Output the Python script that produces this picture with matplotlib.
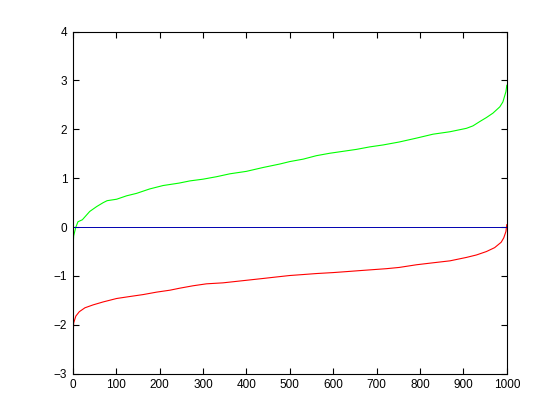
import matplotlib
matplotlib.use("Agg")
import matplotlib.pyplot as plt

# values (sorted curves, index vs value)
green_idx = [1, 2, 7, 12, 22, 39, 55, 70, 79, 101, 124, 147, 177, 208, 245,
             270, 300, 331, 362, 400, 439, 477, 500, 531, 561, 592, 623, 654,
             684, 715, 752, 792, 830, 869, 907, 922, 938, 953, 968, 984, 991,
             998, 1000]
green_val = [-0.33, -0.18, 0.0, 0.11, 0.15, 0.32, 0.42, 0.50, 0.54, 0.57, 0.64,
             0.69, 0.78, 0.85, 0.90, 0.945, 0.98, 1.03, 1.09, 1.14, 1.22, 1.29,
             1.34, 1.39, 1.46, 1.51, 1.55, 1.59, 1.64, 1.68, 1.74, 1.82, 1.90,
             1.95, 2.02, 2.07, 2.16, 2.24, 2.33, 2.46, 2.56, 2.77, 2.90]

red_idx = [1, 2, 7, 15, 28, 47, 70, 101, 131, 162, 193, 224, 246, 277, 308,
           346, 377, 408, 439, 469, 500, 531, 561, 600, 631, 661, 692, 723,
           752, 792, 830, 869, 907, 930, 953, 972, 987, 993, 998, 1000]
red_val = [-2.18, -1.96, -1.82, -1.73, -1.65, -1.59, -1.53, -1.46, -1.42, -1.38,
           -1.33, -1.29, -1.25, -1.20, -1.16, -1.14, -1.11, -1.08, -1.05, -1.02,
           -0.99, -0.97, -0.95, -0.93, -0.91, -0.89, -0.87, -0.85, -0.825, -0.77,
           -0.73, -0.69, -0.62, -0.57, -0.50, -0.42, -0.31, -0.22, -0.09, 0.05]

zero_x = [0, 1000]
zero_y = [0, 0]

plt.rcParams["font.family"] = ["Liberation Sans", "DejaVu Sans"]

fig = plt.figure(figsize=(5.6, 4.2), dpi=100)
ax = fig.add_axes([0.13, 0.11, 0.775, 0.815])

ax.plot(green_idx, green_val, color="#00ff00", lw=0.8)
ax.plot(red_idx, red_val, color="#ff0000", lw=0.8)
ax.plot(zero_x, zero_y, color="#0000b0", lw=0.7)

ax.set_xlim(0, 1000)
ax.set_ylim(-3, 4)
ax.set_xticks(range(0, 1001, 100))
ax.set_yticks(range(-3, 5))
ax.tick_params(direction="in", top=True, right=True, length=4, width=0.8,
               labelsize=8.5, pad=4)
for s in ax.spines.values():
    s.set_linewidth(0.8)

fig.savefig("out.png", dpi=100)
